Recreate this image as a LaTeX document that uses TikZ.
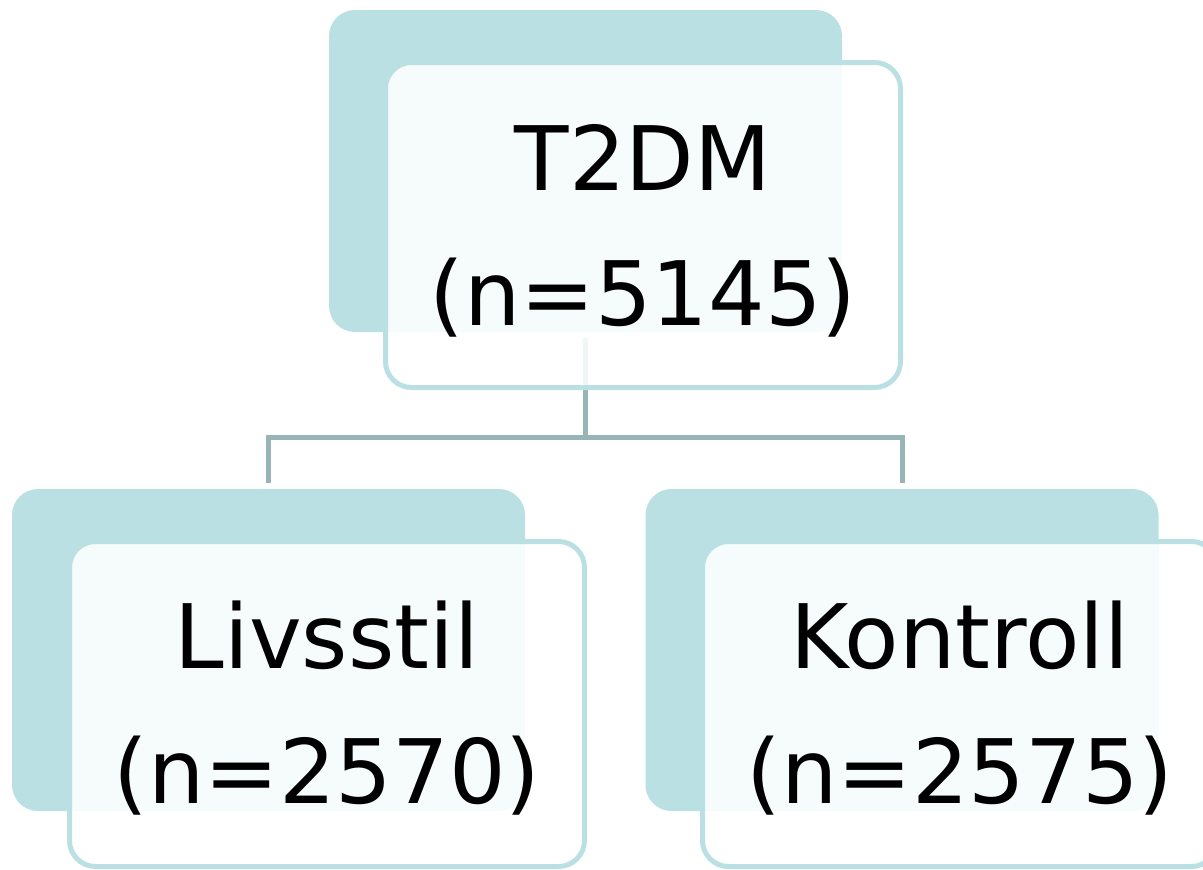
\documentclass[tikz,border=0pt]{standalone}
\usepackage{fontspec}
\setmainfont{DejaVu Sans}
\definecolor{boxblue}{HTML}{BBE0E3}
\definecolor{linegray}{HTML}{97B4B7}
\tikzset{
  backbox/.style={fill=boxblue, draw=none, rounded corners=26pt, minimum width=513pt, minimum height=322pt, inner sep=0pt, outer sep=0pt},
  frontbox/.style={draw=boxblue, line width=5pt, fill=white, fill opacity=0.88, draw opacity=1, rounded corners=26pt, minimum width=515pt, minimum height=325pt, inner sep=0pt, outer sep=0pt},
  lbl/.style={font=\fontsize{89}{135}\selectfont, align=center, inner sep=0pt, anchor=base, text=black},
  conn/.style={draw=linegray, line width=5pt}
}
\begin{document}
\begin{tikzpicture}[x=1pt,y=-1pt]
  \useasboundingbox (0,0) rectangle (1203,870);
  \clip (0,0) rectangle (1203,870);
  % back boxes
  \node[backbox] (tback) at (585.5,171) {};
  \node[backbox] (lback) at (268.5,650) {};
  \node[backbox] (rback) at (902,650) {};
  % connectors
  \coordinate (split) at ([yshift=-105pt]tback.south);
  \draw[conn] ([yshift=-6pt]tback.south) -- (split);
  \draw[conn] (split) -| ([yshift=6pt]lback.north);
  \draw[conn] (split) -| ([yshift=6pt]rback.north);
  % front boxes
  \node[frontbox] (tfront) at (643,225) {};
  \node[frontbox] (lfront) at (327,704) {};
  \node[frontbox] (rfront) at (960,704) {};
  % texts
  \begin{scope}
    \clip (383,60) rectangle (903,340);
    \node[lbl] (ttext) at (643,325) {T2DM\\(n=5145)};
  \end{scope}
  \begin{scope}
    \clip (67,540) rectangle (587,820);
    \node[lbl] (ltext) at (327,803) {Livsstil\\(n=2570)};
  \end{scope}
  \begin{scope}
    \clip (700,540) rectangle (1203,820);
    \node[lbl] (rtext) at (960,803) {Kontroll\\(n=2575)};
  \end{scope}
\end{tikzpicture}
\end{document}
